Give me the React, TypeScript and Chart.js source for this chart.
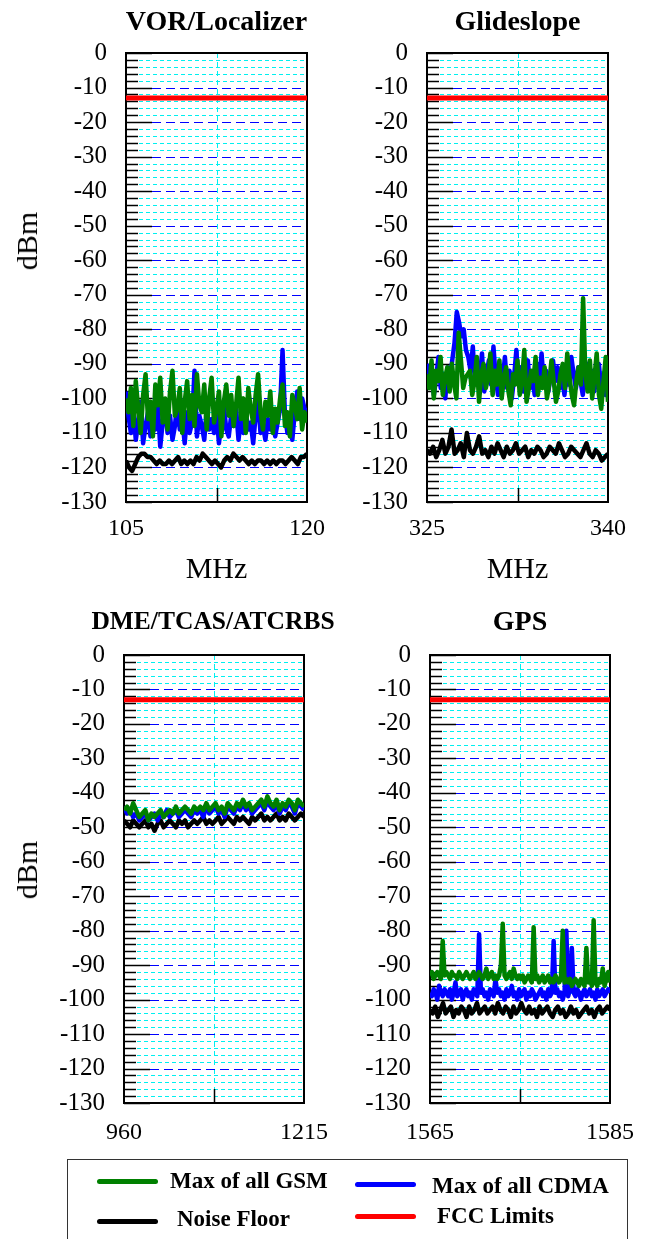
import React, { useEffect, useRef } from 'react';
import { Chart, registerables } from 'chart.js';

Chart.register(...registerables);

const FONT = "'Liberation Serif', 'Times New Roman', Times, serif";

// ---- axes ----
const Y_MIN = -130;
const Y_MAX = 0;
const Y_STEP = 10;
const Y_MINOR = 2;
const FCC_LIMIT = -13;

const TITLES = ['VOR/Localizer', 'Glideslope', 'DME/TCAS/ATCRBS', 'GPS'];
const X_RANGES = [
  [105, 120],
  [325, 340],
  [960, 1215],
  [1565, 1585],
];
const LEGEND_LABELS = ['Max of all GSM', 'Max of all CDMA', 'Noise Floor', 'FCC Limits'];
const Y_LABEL = 'dBm';
const X_LABEL = 'MHz';

// ---- VOR / Localizer (105-120 MHz) ----
const vorGsm = [-100, -104, -97, -108, -95, -103, -110, -99, -93, -106, -101, -111, -96, -102, -94, -107, -100, -109, -98, -92, -105, -103, -97, -110, -101, -95, -106, -99, -108, -93, -102, -104, -96, -109, -100, -94, -107, -103, -98, -111, -101, -96, -105, -99, -108, -102, -94, -106, -100, -110, -97, -103, -107, -99, -93, -104, -109, -101, -105, -98, -110, -103, -107, -100, -96, -108, -104, -111, -99, -102, -106, -97, -109, -104, -107];
const vorCdma = [-98, -105, -110, -103, -112, -107, -101, -113, -108, -104, -111, -106, -109, -102, -114, -107, -103, -110, -105, -112, -108, -101, -109, -106, -113, -104, -110, -107, -92, -111, -105, -108, -112, -103, -109, -106, -110, -104, -113, -107, -102, -109, -111, -105, -108, -103, -112, -106, -110, -104, -109, -107, -113, -105, -101, -110, -108, -112, -106, -109, -104, -111, -107, -103, -86, -105, -110, -107, -112, -104, -98, -106, -100, -103, -104];
const vorNoise = [-118, -120, -121, -119, -117, -116, -116, -117, -117, -118, -119, -118, -119, -119, -118, -119, -118, -117, -119, -118, -119, -118, -119, -117, -118, -116, -117, -118, -119, -118, -119, -120, -118, -117, -118, -116, -117, -118, -117, -118, -119, -118, -119, -118, -118, -119, -118, -119, -118, -119, -118, -118, -119, -118, -117, -118, -119, -117, -117, -116];

// ---- Glideslope (325-340 MHz) ----
const gsGsm = [-93, -97, -89, -100, -92, -95, -88, -99, -94, -91, -98, -90, -96, -100, -81, -89, -97, -94, -93, -92, -99, -95, -88, -101, -93, -90, -97, -94, -87, -99, -92, -96, -89, -100, -94, -91, -98, -102, -93, -96, -89, -99, -95, -86, -101, -97, -92, -95, -88, -99, -94, -97, -91, -100, -96, -89, -95, -101, -98, -93, -90, -97, -87, -94, -99, -102, -95, -91, -96, -71, -93, -98, -89, -100, -94, -87, -99, -103, -95, -88, -101];
const gsCdma = [-90, -96, -92, -99, -94, -88, -97, -93, -100, -91, -95, -89, -84, -75, -78, -82, -80, -86, -88, -92, -85, -96, -90, -94, -87, -98, -93, -89, -96, -85, -94, -99, -91, -95, -88, -97, -92, -100, -94, -86, -96, -91, -98, -93, -89, -97, -94, -99, -90, -95, -87, -96, -92, -98, -93, -89, -95, -91, -97, -94, -99, -92, -96, -88, -93, -97, -91, -95, -99, -93, -90, -96, -92, -98, -94, -90, -97, -93, -99, -95];
const gsNoise = [-115, -116, -114, -117, -115, -112, -116, -114, -109, -116, -115, -113, -117, -110, -115, -116, -114, -111, -116, -115, -117, -114, -116, -113, -115, -117, -114, -116, -115, -113, -116, -115, -114, -117, -115, -116, -114, -115, -117, -116, -114, -115, -116, -113, -115, -117, -116, -114, -115, -116, -117, -115, -113, -116, -117, -115, -116, -118, -117, -116];

// ---- DME / TCAS / ATCRBS (960-1215 MHz) ----
const dmeGsm = [-45, -44, -46, -43, -45, -47, -46, -45, -48, -46, -47, -46, -45, -47, -46, -45, -46, -44, -46, -45, -44, -45, -46, -44, -45, -44, -45, -43, -45, -44, -43, -45, -44, -46, -43, -44, -45, -43, -44, -42, -44, -43, -45, -44, -43, -42, -44, -41, -43, -44, -42, -45, -43, -44, -42, -43, -45, -42, -43, -44];
const dmeCdma = [-44, -46, -45, -47, -46, -48, -47, -46, -48, -47, -46, -48, -46, -47, -45, -47, -46, -45, -47, -46, -45, -46, -47, -45, -46, -45, -47, -44, -46, -45, -44, -46, -45, -47, -44, -45, -46, -44, -45, -43, -45, -44, -46, -45, -44, -43, -45, -42, -44, -45, -43, -46, -44, -45, -43, -44, -46, -43, -44, -45];
const dmeNoise = [-48, -49, -50, -48, -49, -50, -49, -48, -50, -49, -51, -49, -48, -50, -49, -48, -49, -50, -48, -49, -48, -50, -49, -48, -49, -48, -47, -49, -48, -49, -48, -47, -49, -48, -47, -48, -49, -47, -48, -47, -48, -49, -47, -48, -47, -46, -48, -47, -48, -47, -46, -48, -47, -48, -46, -47, -48, -47, -46, -47];

// ---- GPS (1565-1585 MHz) ----
const gpsGsm = [
  -93, -92, -94, -93, -92, -93, -94, -83, -93, -92,
  -93, -94, -92, -93, -93, -94, -92, -93, -94, -93,
  -92, -93, -94, -93, -92, -94, -93, -92, -93, -94,
  -93, -91, -94, -93, -92, -94, -93, -94, -93, -90,
  -78, -93, -94, -93, -92, -94, -91, -93, -94, -93,
  -94, -93, -95, -94, -93, -94, -95, -79, -94, -93,
  -95, -94, -93, -95, -94, -93, -95, -94, -95, -93,
  -94, -95, -94, -80, -95, -94, -95, -94, -96, -95,
  -94, -95, -96, -94, -95, -96, -85, -95, -94, -96,
  -77, -95, -96, -94, -95, -91, -96, -94, -92, -95,
];
const gpsCdma = [
  -98, -99, -97, -98, -100, -96, -98, -99, -97, -98,
  -99, -97, -100, -98, -95, -99, -98, -97, -100, -98,
  -97, -99, -98, -100, -97, -98, -99, -81, -98, -97,
  -99, -98, -100, -97, -98, -99, -94, -98, -97, -99,
  -98, -100, -97, -99, -98, -96, -99, -98, -100, -97,
  -99, -98, -97, -100, -98, -99, -97, -98, -100, -99,
  -98, -97, -99, -98, -100, -97, -99, -98, -83, -98,
  -97, -99, -98, -100, -98, -80, -99, -97, -85, -98,
  -99, -97, -98, -100, -98, -97, -99, -98, -97, -99,
  -98, -100, -97, -99, -98, -97, -99, -98, -97, -98,
];
const gpsNoise = [-103, -104, -102, -105, -103, -101, -104, -103, -102, -105, -103, -104, -102, -103, -105, -102, -104, -103, -101, -104, -103, -102, -104, -103, -102, -104, -101, -103, -104, -102, -103, -105, -102, -104, -103, -101, -103, -104, -102, -104, -103, -105, -102, -104, -103, -102, -104, -105, -103, -102, -104, -103, -105, -104, -102, -104, -103, -105, -104, -103, -102, -104, -103, -105, -103, -102, -104, -103, -102, -103];

const GSM_SERIES = [vorGsm, gsGsm, dmeGsm, gpsGsm];
const CDMA_SERIES = [vorCdma, gsCdma, dmeCdma, gpsCdma];
const NOISE_SERIES = [vorNoise, gsNoise, dmeNoise, gpsNoise];

const COLORS = { gsm: '#008000', cdma: '#0000ff', noise: '#000000', fcc: '#ff0000' };

// layout of each panel's canvas (page pixels)
const PANEL_LAYOUT = [
  { left: 0, top: 0, w: 340, h: 600, yWidth: 126, padRight: 33, padTop: 53, padBottom: 8, xHeight: 90, tickPad: 12, xTitle: true, titleX: 216.5, titleY: 21, titleSize: 28 },
  { left: 324, top: 0, w: 324, h: 600, yWidth: 103, padRight: 40, padTop: 53, padBottom: 8, xHeight: 90, tickPad: 12, xTitle: true, titleX: 517.5, titleY: 21, titleSize: 28 },
  { left: 0, top: 600, w: 345, h: 560, yWidth: 124, padRight: 41, padTop: 55, padBottom: 7, xHeight: 50, tickPad: 15, xTitle: false, titleX: 213, titleY: 621, titleSize: 25.5 },
  { left: 324, top: 600, w: 330, h: 560, yWidth: 106, padRight: 44, padTop: 55, padBottom: 7, xHeight: 50, tickPad: 15, xTitle: false, titleX: 520, titleY: 621, titleSize: 28 },
];

function sweep(values: number[], min: number, max: number) {
  const n = values.length - 1;
  return values.map((v, i) => ({ x: min + ((max - min) * i) / n, y: v }));
}

const gridPlugin = {
  id: 'rfGrid',
  beforeDatasetsDraw(chart: any) {
    const { ctx, chartArea: a, scales } = chart;
    const xs = scales.x;
    const ys = scales.y;
    ctx.save();
    ctx.lineWidth = 1;
    // minor grid
    ctx.strokeStyle = '#00f0f0';
    ctx.setLineDash([4, 3]);
    for (let v = Y_MIN + Y_MINOR; v < Y_MAX; v += Y_MINOR) {
      if (v % Y_STEP === 0) continue;
      const py = Math.round(ys.getPixelForValue(v)) + 0.5;
      ctx.beginPath();
      ctx.moveTo(a.left + 13, py);
      ctx.lineTo(a.right, py);
      ctx.stroke();
    }
    // vertical middle grid line
    const mx = Math.round(xs.getPixelForValue((xs.min + xs.max) / 2)) + 0.5;
    ctx.setLineDash([5, 4]);
    ctx.beginPath();
    ctx.moveTo(mx, a.top);
    ctx.lineTo(mx, a.bottom);
    ctx.stroke();
    // major grid
    ctx.strokeStyle = '#0000ff';
    ctx.setLineDash([9, 5]);
    for (let v = Y_MIN + Y_STEP; v < Y_MAX; v += Y_STEP) {
      const py = Math.round(ys.getPixelForValue(v)) + 0.5;
      ctx.beginPath();
      ctx.moveTo(a.left + 26, py);
      ctx.lineTo(a.right, py);
      ctx.stroke();
    }
    // inner ticks
    ctx.setLineDash([]);
    ctx.strokeStyle = '#000';
    ctx.lineWidth = 1.5;
    for (let v = Y_MIN; v <= Y_MAX; v += Y_MINOR) {
      const py = Math.round(ys.getPixelForValue(v)) + 0.5;
      const len = v % Y_STEP === 0 ? 26 : 12;
      ctx.beginPath();
      ctx.moveTo(a.left, py);
      ctx.lineTo(a.left + len, py);
      ctx.stroke();
    }
    ctx.beginPath();
    ctx.moveTo(mx, a.bottom);
    ctx.lineTo(mx, a.bottom - 14);
    ctx.stroke();
    // frame
    ctx.lineWidth = 2;
    ctx.strokeRect(a.left, a.top, a.right - a.left, a.bottom - a.top);
    ctx.restore();
  },
};

function Panel({ index }: { index: number }) {
  const ref = useRef<HTMLCanvasElement>(null);
  const L = PANEL_LAYOUT[index];
  useEffect(() => {
    const [xMin, xMax] = X_RANGES[index];
    const lineBase = {
      pointRadius: 0,
      borderWidth: 4.5,
      tension: 0,
      borderJoinStyle: 'round' as const,
      fill: false,
    };
    const chart = new Chart(ref.current as HTMLCanvasElement, {
      type: 'line',
      data: {
        datasets: [
          { ...lineBase, label: LEGEND_LABELS[3], data: [{ x: xMin, y: FCC_LIMIT }, { x: xMax, y: FCC_LIMIT }], borderColor: COLORS.fcc, backgroundColor: COLORS.fcc, borderWidth: 5 },
          { ...lineBase, label: LEGEND_LABELS[0], data: sweep(GSM_SERIES[index], xMin, xMax), borderColor: COLORS.gsm, backgroundColor: COLORS.gsm },
          { ...lineBase, label: LEGEND_LABELS[1], data: sweep(CDMA_SERIES[index], xMin, xMax), borderColor: COLORS.cdma, backgroundColor: COLORS.cdma },
          { ...lineBase, label: LEGEND_LABELS[2], data: sweep(NOISE_SERIES[index], xMin, xMax), borderColor: COLORS.noise, backgroundColor: COLORS.noise },
        ],
      },
      options: {
        responsive: false,
        animation: false,
        devicePixelRatio: 1,
        layout: { padding: { left: 0, right: L.padRight, top: L.padTop, bottom: L.padBottom } },
        plugins: {
          legend: { display: false },
          tooltip: { enabled: false },
          title: { display: false },
        },
        scales: {
          x: {
            type: 'linear',
            min: xMin,
            max: xMax,
            grid: { display: false, drawTicks: false },
            border: { display: false },
            ticks: {
              color: '#000',
              font: { family: FONT, size: 24 },
              padding: L.tickPad,
              maxRotation: 0,
              autoSkip: false,
              callback: (v: any) => String(v),
            },
            afterBuildTicks: (s: any) => {
              s.ticks = [{ value: xMin }, { value: xMax }];
            },
            afterFit: (s: any) => {
              s.height = L.xHeight;
            },
            title: {
              display: L.xTitle,
              text: X_LABEL,
              color: '#000',
              font: { family: FONT, size: 30 },
              padding: { top: 0, bottom: 4 },
            },
          },
          y: {
            type: 'linear',
            min: Y_MIN,
            max: Y_MAX,
            grid: { display: false, drawTicks: false },
            border: { display: false },
            ticks: {
              stepSize: Y_STEP,
              color: '#000',
              font: { family: FONT, size: 25 },
              padding: 19,
            },
            afterFit: (s: any) => {
              s.width = L.yWidth;
            },
          },
        },
      } as any,
      plugins: [gridPlugin],
    });
    return () => chart.destroy();
  }, [index]);
  return (
    <>
      <canvas
        ref={ref}
        width={L.w}
        height={L.h}
        style={{ position: 'absolute', left: L.left, top: L.top, width: L.w, height: L.h }}
      />
      <div
        style={{
          position: 'absolute',
          left: L.titleX,
          top: L.titleY,
          transform: 'translate(-50%, -50%)',
          fontFamily: FONT,
          fontWeight: 'bold',
          fontSize: L.titleSize,
          lineHeight: 1,
          whiteSpace: 'nowrap',
          color: '#000',
        }}
      >
        {TITLES[index]}
      </div>
    </>
  );
}

const legendText: React.CSSProperties = {
  position: 'absolute',
  fontFamily: FONT,
  fontWeight: 'bold',
  fontSize: 23,
  lineHeight: 1,
  whiteSpace: 'nowrap',
  transform: 'translateY(-50%)',
  color: '#000',
};

function Swatch({ left, top, color }: { left: number; top: number; color: string }) {
  return (
    <div
      style={{ position: 'absolute', left, top: top - 2.5, width: 61, height: 5, borderRadius: 3, background: color }}
    />
  );
}

function YLabel({ top }: { top: number }) {
  return (
    <div
      style={{
        position: 'absolute',
        left: 27,
        top,
        transform: 'translate(-50%, -50%) rotate(-90deg)',
        fontFamily: FONT,
        fontSize: 30,
        lineHeight: 1,
        whiteSpace: 'nowrap',
        color: '#000',
      }}
    >
      {Y_LABEL}
    </div>
  );
}

export default function App() {
  return (
    <div
      style={{ position: 'absolute', left: 0, top: 0, width: 648, height: 1239, overflow: 'hidden', background: '#fff' }}
    >
      <Panel index={0} />
      <Panel index={1} />
      <Panel index={2} />
      <Panel index={3} />
      <YLabel top={241} />
      <YLabel top={870} />
      <div
        style={{ position: 'absolute', left: 67, top: 1159, width: 561, height: 90, border: '1.5px solid #333', boxSizing: 'border-box' }}
      />
      <Swatch left={97} top={1181} color={COLORS.gsm} />
      <div style={{ ...legendText, left: 170, top: 1180 }}>{LEGEND_LABELS[0]}</div>
      <Swatch left={355} top={1184} color={COLORS.cdma} />
      <div style={{ ...legendText, left: 432, top: 1185 }}>{LEGEND_LABELS[1]}</div>
      <Swatch left={97} top={1221} color={COLORS.noise} />
      <div style={{ ...legendText, left: 177, top: 1218 }}>{LEGEND_LABELS[2]}</div>
      <Swatch left={355} top={1216} color={COLORS.fcc} />
      <div style={{ ...legendText, left: 437, top: 1215 }}>{LEGEND_LABELS[3]}</div>
    </div>
  );
}
